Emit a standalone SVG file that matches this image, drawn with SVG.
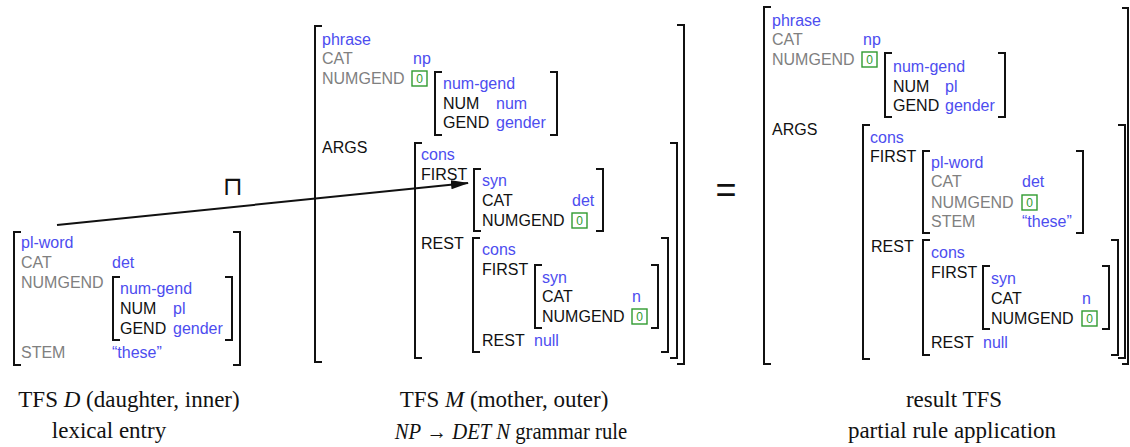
<svg xmlns="http://www.w3.org/2000/svg" width="1130" height="447" viewBox="0 0 1130 447">
  <style>
    text { font-family: "Liberation Sans", Arial, sans-serif; font-size: 16px; }
    .ty { fill: #4d4def; }
    .gr { fill: #808080; }
    .bk { fill: #111111; }
    .br { fill: none; stroke: #111111; stroke-width: 2; }
    .tag rect { fill: none; stroke: #2f9b2f; stroke-width: 1.4; }
    .tag text { fill: #2f9b2f; font-size: 12px; text-anchor: middle; }
    .cap { font-family: "Liberation Serif", "Times New Roman", serif; font-size: 23px; fill: #111111; text-anchor: middle; }
    .op { fill: #111111; text-anchor: middle; }
    .meet { font-family: "DejaVu Sans", sans-serif; font-size: 26px; }
    .eq { font-family: "Liberation Sans", Arial, sans-serif; font-size: 36px; }
    .conn { stroke: #111111; stroke-width: 2; fill: none; }
  </style>
  <defs>
    <marker id="head" viewBox="0 0 18 10" refX="17" refY="5" markerWidth="18" markerHeight="10" markerUnits="userSpaceOnUse" orient="auto">
      <path d="M0,0.5 L18,5 L0,9.5 Z" fill="#111111"/>
    </marker>
  </defs>
  <rect width="1130" height="447" fill="#ffffff"/>

  <!-- daughter feature structure: lexical entry -->
  <g id="tfs-d">
    <path class="br" d="M21,232 H14 V365 H21"/>
    <path class="br" d="M233,232 H240 V365 H233"/>
    <path class="br" d="M120,277 H113 V340 H120"/>
    <path class="br" d="M225,277 H232 V340 H225"/>
    <text class="ty" x="21" y="248">pl-word</text>
    <text class="gr" x="21" y="268">CAT</text>
    <text class="ty" x="112" y="268">det</text>
    <text class="gr" x="21" y="288">NUMGEND</text>
    <text class="ty" x="120" y="294">num-gend</text>
    <text class="bk" x="120" y="314">NUM</text>
    <text class="ty" x="173" y="314">pl</text>
    <text class="bk" x="120" y="334">GEND</text>
    <text class="ty" x="173" y="334">gender</text>
    <text class="gr" x="21" y="358">STEM</text>
    <text class="ty" x="112" y="358">“these”</text>
  </g>

  <!-- meet operator -->
  <g id="op-meet">
    <text class="op meet" x="233" y="195">⊓</text>
  </g>

  <!-- mother feature structure: NP -> DET N rule -->
  <g id="tfs-m">
    <path class="br" d="M322,26 H315 V362 H322"/>
    <path class="br" d="M677,25 H684 V364 H677"/>
    <text class="ty" x="322" y="45">phrase</text>
    <text class="gr" x="322" y="64">CAT</text>
    <text class="ty" x="413" y="64">np</text>
    <text class="gr" x="322" y="84">NUMGEND</text>
    <g class="tag"><rect x="412" y="71" width="15" height="15"/><text x="419.5" y="83">0</text></g>
    <path class="br" d="M442,72 H435 V135 H442"/>
    <path class="br" d="M550,72 H557 V135 H550"/>
    <text class="ty" x="443" y="89">num-gend</text>
    <text class="bk" x="443" y="109">NUM</text>
    <text class="ty" x="496" y="109">num</text>
    <text class="bk" x="443" y="128">GEND</text>
    <text class="ty" x="496" y="128">gender</text>
    <text class="bk" x="322" y="153">ARGS</text>
    <path class="br" d="M422,143 H415 V358 H422"/>
    <path class="br" d="M670,143 H677 V358 H670"/>
    <text class="ty" x="421" y="160">cons</text>
    <text class="bk" x="421" y="180">FIRST</text>
    <path class="br" d="M481,169 H474 V231 H481"/>
    <path class="br" d="M596,169 H603 V231 H596"/>
    <text class="ty" x="482" y="186">syn</text>
    <text class="bk" x="482" y="206">CAT</text>
    <text class="ty" x="572" y="206">det</text>
    <text class="bk" x="482" y="226">NUMGEND</text>
    <g class="tag"><rect x="572" y="213" width="15" height="15"/><text x="579.5" y="225">0</text></g>
    <text class="bk" x="421" y="249">REST</text>
    <path class="br" d="M480,238 H473 V352 H480"/>
    <path class="br" d="M661,238 H668 V352 H661"/>
    <text class="ty" x="482" y="255">cons</text>
    <text class="bk" x="482" y="275">FIRST</text>
    <path class="br" d="M542,265 H535 V328 H542"/>
    <path class="br" d="M651,265 H658 V328 H651"/>
    <text class="ty" x="542" y="283">syn</text>
    <text class="bk" x="542" y="302">CAT</text>
    <text class="ty" x="632" y="302">n</text>
    <text class="bk" x="542" y="322">NUMGEND</text>
    <g class="tag"><rect x="632" y="309" width="15" height="15"/><text x="639.5" y="321">0</text></g>
    <text class="bk" x="482" y="346">REST</text>
    <text class="ty" x="534" y="346">null</text>
  </g>

  <!-- equals sign -->
  <g id="op-eq">
    <text class="op eq" x="726" y="202">=</text>
  </g>

  <!-- result feature structure -->
  <g id="tfs-result">
    <path class="br" d="M771,7 H764 V364 H771"/>
    <path class="br" d="M1122,8 H1128 V364 H1122"/>
    <text class="ty" x="772" y="26">phrase</text>
    <text class="gr" x="772" y="45">CAT</text>
    <text class="ty" x="863" y="45">np</text>
    <text class="gr" x="772" y="65">NUMGEND</text>
    <g class="tag"><rect x="862" y="52" width="15" height="15"/><text x="869.5" y="64">0</text></g>
    <path class="br" d="M892,53 H885 V117 H892"/>
    <path class="br" d="M998,53 H1005 V117 H998"/>
    <text class="ty" x="893" y="72">num-gend</text>
    <text class="bk" x="893" y="92">NUM</text>
    <text class="ty" x="945" y="92">pl</text>
    <text class="bk" x="893" y="111">GEND</text>
    <text class="ty" x="945" y="111">gender</text>
    <text class="bk" x="772" y="135">ARGS</text>
    <path class="br" d="M870,125 H863 V359 H870"/>
    <path class="br" d="M1118,125 H1125 V358 H1118"/>
    <text class="ty" x="870" y="143">cons</text>
    <text class="bk" x="870" y="162">FIRST</text>
    <path class="br" d="M930,151 H923 V233 H930"/>
    <path class="br" d="M1076,151 H1083 V233 H1076"/>
    <text class="ty" x="931" y="168">pl-word</text>
    <text class="gr" x="931" y="187">CAT</text>
    <text class="ty" x="1022" y="187">det</text>
    <text class="gr" x="931" y="208">NUMGEND</text>
    <g class="tag"><rect x="1022" y="195" width="15" height="15"/><text x="1029.5" y="207">0</text></g>
    <text class="gr" x="931" y="227">STEM</text>
    <text class="ty" x="1022" y="227">“these”</text>
    <text class="bk" x="871" y="252">REST</text>
    <path class="br" d="M930,240 H923 V355 H930"/>
    <path class="br" d="M1111,240 H1118 V355 H1111"/>
    <text class="ty" x="931" y="258">cons</text>
    <text class="bk" x="931" y="278">FIRST</text>
    <path class="br" d="M990,266 H983 V329 H990"/>
    <path class="br" d="M1102,266 H1109 V329 H1102"/>
    <text class="ty" x="991" y="284">syn</text>
    <text class="bk" x="991" y="304">CAT</text>
    <text class="ty" x="1082" y="304">n</text>
    <text class="bk" x="991" y="324">NUMGEND</text>
    <g class="tag"><rect x="1082" y="311" width="15" height="15"/><text x="1089.5" y="323">0</text></g>
    <text class="bk" x="931" y="348">REST</text>
    <text class="ty" x="983" y="348">null</text>
  </g>

  <!-- connectors -->
  <g id="connectors">
    <line class="conn" x1="57" y1="225" x2="468" y2="183" marker-end="url(#head)"/>
  </g>

  <!-- captions -->
  <g id="captions">
    <text class="cap" x="129" y="407">TFS <tspan font-style="italic">D</tspan> (daughter, inner)</text>
    <text class="cap" x="109" y="438">lexical entry</text>
    <text class="cap" x="504" y="407">TFS <tspan font-style="italic">M</tspan> (mother, outer)</text>
    <text class="cap" transform="translate(511,439) scale(0.9,1)"><tspan font-style="italic">NP</tspan> → <tspan font-style="italic">DET N</tspan> grammar rule</text>
    <text class="cap" x="954" y="407">result TFS</text>
    <text class="cap" x="952" y="438">partial rule application</text>
  </g>
</svg>
